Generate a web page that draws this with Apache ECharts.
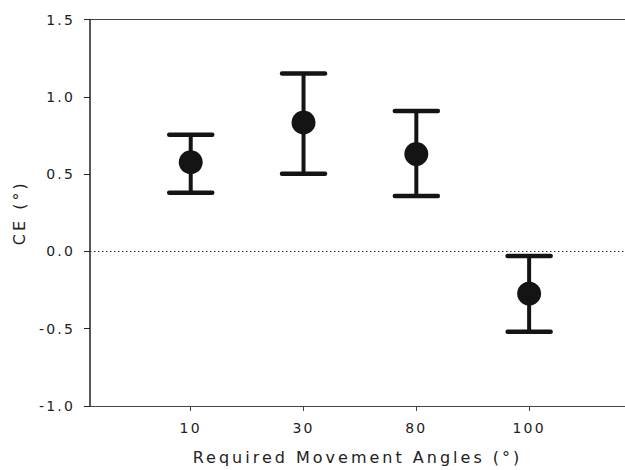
<!DOCTYPE html>
<html>
<head>
<meta charset="utf-8">
<script src="https://cdn.jsdelivr.net/npm/echarts@6/dist/echarts.min.js"></script>
<style>
html,body{margin:0;padding:0;background:#fff;}
#chart{width:625px;height:470px;}
#chart text{letter-spacing:2.2px;}
#chart text[style*="16px"]{letter-spacing:3px;}
</style>
</head>
<body>
<div id="chart"></div>
<script>
const categories = ['10', '30', '80', '100'];
const means = [0.577, 0.834, 0.630, -0.273];
const upper = [0.754, 1.150, 0.908, -0.029];
const lower = [0.380, 0.502, 0.359, -0.519];
const yTicks = [-1.0, -0.5, 0.0, 0.5, 1.0, 1.5];

const positions = categories.map((c, i) => i + 1);
const pointData = positions.map((p, i) => [p, means[i]]);
const errData = positions.map((p, i) => [p, lower[i], upper[i]]);

const chart = echarts.init(document.getElementById('chart'), null, {renderer: 'svg'});
const font = 'DejaVu Sans';
const markColor = '#141414';

chart.setOption({
  animation: false,
  backgroundColor: '#fff',
  grid: {left: 90, right: 0, top: 19.5, bottom: 61},
  xAxis: [{
    type: 'value',
    position: 'bottom',
    min: 0.107,
    max: 4.85,
    name: 'Required Movement Angles (°)',
    nameLocation: 'middle',
    nameGap: 43,
    nameTextStyle: {fontFamily: font, fontSize: 16, color: '#222'},
    axisLine: {show: true, onZero: false, lineStyle: {color: '#444', width: 1}},
    axisTick: {show: true, length: 5, customValues: positions, lineStyle: {color: '#444', width: 1}},
    axisLabel: {
      show: true, margin: 15, customValues: positions,
      fontFamily: font, fontSize: 14, color: '#222',
      formatter: v => categories[Math.round(v) - 1]
    },
    splitLine: {show: false}
  }, {
    type: 'value',
    position: 'top',
    min: 0.107,
    max: 4.85,
    axisLine: {show: true, onZero: false, lineStyle: {color: '#444', width: 1}},
    axisTick: {show: false},
    axisLabel: {show: false},
    splitLine: {show: false}
  }],
  yAxis: {
    type: 'value',
    min: yTicks[0],
    max: yTicks[yTicks.length - 1],
    interval: 0.5,
    name: 'CE (°)',
    nameLocation: 'middle',
    nameGap: 63,
    nameRotate: 90,
    nameTextStyle: {fontFamily: font, fontSize: 16, color: '#222'},
    axisLine: {show: true, onZero: false, lineStyle: {color: '#222', width: 1.5}},
    axisTick: {show: true, length: 6, lineStyle: {color: '#222', width: 1}},
    axisLabel: {
      margin: 15, fontFamily: font, fontSize: 14, color: '#222',
      formatter: v => v.toFixed(1)
    },
    splitLine: {show: false}
  },
  series: [{
    type: 'custom',
    xAxisIndex: 0,
    data: errData,
    renderItem: function (params, api) {
      const x = api.value(0);
      const top = api.coord([x, api.value(2)]);
      const bot = api.coord([x, api.value(1)]);
      const half = 21.5;
      const st = {stroke: markColor, lineWidth: 4.5, lineCap: 'round'};
      return {
        type: 'group',
        children: [
          {type: 'line', shape: {x1: top[0], y1: top[1], x2: bot[0], y2: bot[1]}, style: {stroke: markColor, lineWidth: 4}},
          {type: 'line', shape: {x1: top[0] - half, y1: top[1], x2: top[0] + half, y2: top[1]}, style: st},
          {type: 'line', shape: {x1: bot[0] - half, y1: bot[1], x2: bot[0] + half, y2: bot[1]}, style: st}
        ]
      };
    },
    markLine: {
      silent: true,
      symbol: 'none',
      label: {show: false},
      lineStyle: {type: [1.5, 2.5], color: '#333', width: 1},
      data: [{yAxis: 0}]
    },
    z: 2
  }, {
    type: 'scatter',
    xAxisIndex: 0,
    data: pointData,
    symbol: 'circle',
    symbolSize: 24,
    itemStyle: {color: markColor, opacity: 1},
    z: 3
  }]
});
</script>
</body>
</html>
